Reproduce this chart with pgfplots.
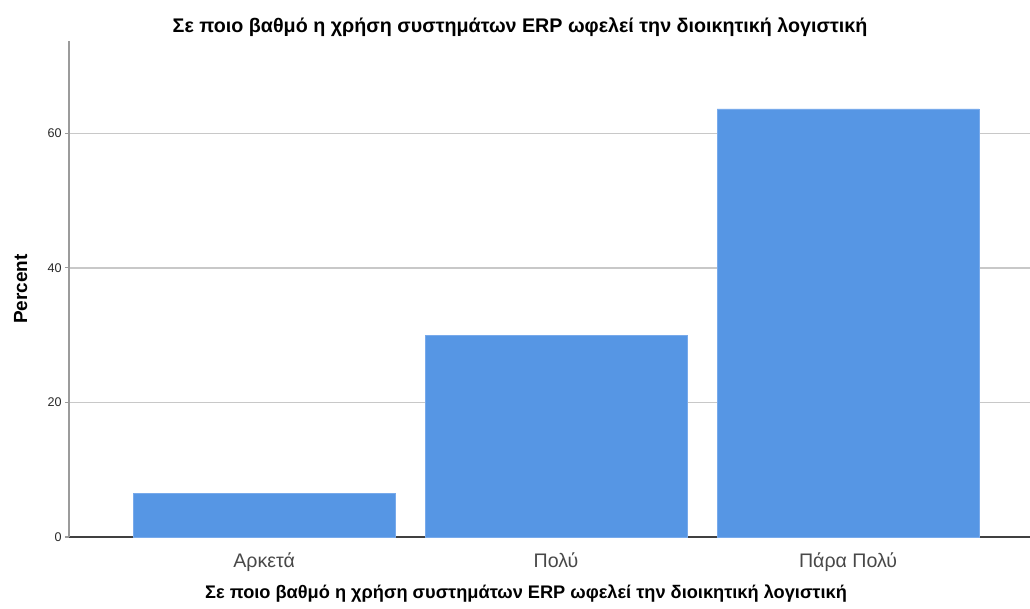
\documentclass[border=0pt]{standalone}
\usepackage{pgfplots}
\pgfplotsset{compat=1.18}
\usepackage{fontspec}
\setmainfont{Liberation Sans}
\definecolor{barblue}{RGB}{86,150,228}
\definecolor{baredge}{RGB}{120,170,235}
\definecolor{gridgray}{RGB}{200,200,200}
\definecolor{spinegray}{RGB}{155,155,155}
\definecolor{txt}{RGB}{40,40,40}
\begin{document}
\begin{tikzpicture}
\begin{axis}[name=ax,
  scale only axis, width=480.5pt, height=248pt,
  xmin=-0.668, xmax=2.623, ymin=0, ymax=73.7,
  axis x line*=bottom, axis y line*=left,
  x axis line style={draw=black!75, line width=0.6pt},
  y axis line style={draw=spinegray, line width=0.9pt},
  ybar, bar width=0.897,
  xtick={0,1,2}, xticklabels={Αρκετά,Πολύ,Πάρα Πολύ},
  xtick style={draw=none},
  ytick={0,20,40,60},
  ytick style={draw=spinegray, line width=0.6pt},
  tick align=outside, major tick length=2pt,
  ymajorgrids, grid style={draw=gridgray, line width=0.7pt},
  /pgf/number format/assume math mode=true,
  yticklabel style={font=\fontsize{6.3}{7}\selectfont, text=txt, anchor=east, xshift=1.8pt},
  xticklabel style={font=\fontsize{9.8}{11}\selectfont, text=txt!85, anchor=base, yshift=-13pt},
  title={Σε ποιο βαθμό η χρήση συστημάτων ERP ωφελεί την διοικητική λογιστική},
  title style={font=\bfseries\fontsize{9.85}{11}\selectfont, anchor=base, at={(axis description cs:0.5,1)}, xshift=-14.75pt, yshift=-1.5pt},
  xlabel={Σε ποιο βαθμό η χρήση συστημάτων ERP ωφελεί την διοικητική λογιστική},
  xlabel style={font=\bfseries\fontsize{9.1}{11}\selectfont, anchor=base, at={(axis description cs:0.5,0)}, xshift=-11.75pt, yshift=-30.5pt},
  ylabel={Percent},
  ylabel style={font=\bfseries\fontsize{9.5}{11}\selectfont, anchor=base, at={(axis description cs:-0.0437,0.5)}},
]
\addplot[fill=barblue, draw=baredge, line width=0.4pt] coordinates {(0,6.5) (1,29.9) (2,63.6)};
\end{axis}
\pgfresetboundingbox
\path (ax.south west) ++(-34.5pt,-35.5pt) coordinate (bl);
\path (ax.north east) ++(0pt,20.5pt) coordinate (tr);
\path (bl) rectangle (tr);
\end{tikzpicture}
\end{document}
